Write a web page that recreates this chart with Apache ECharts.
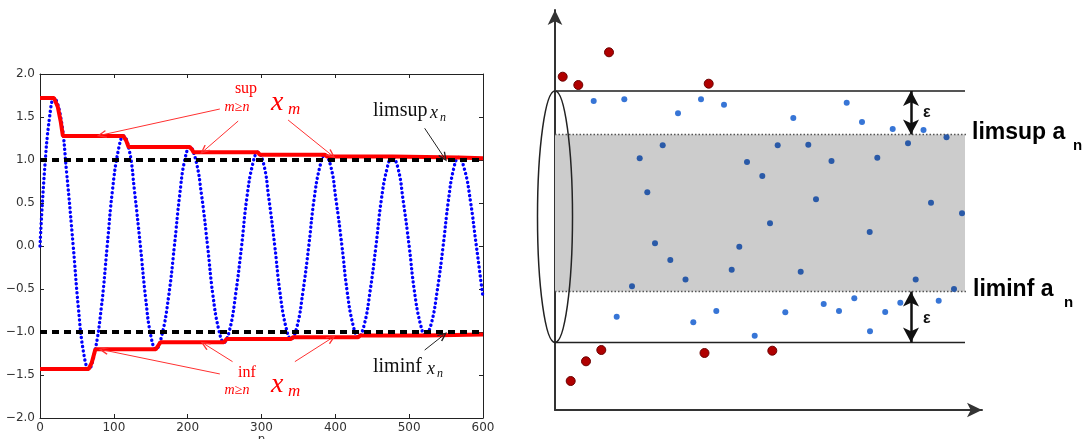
<!DOCTYPE html>
<html>
<head>
<meta charset="utf-8">
<script src="https://cdn.jsdelivr.net/npm/echarts@6/dist/echarts.min.js"></script>
<style>
  html, body { margin: 0; background: #fff; }
  #chart { width: 1085px; height: 439px; }
</style>
</head>
<body>
<div id="chart"></div>
<script>
// ---- left panel: the sequence x_n ----
const seqN = [0, 6, 13, 19, 28, 36, 45, 52, 59, 66, 74, 83, 91, 98, 106, 113, 121, 128, 136,
  143, 150, 157, 165, 174, 182, 189, 196, 203, 211, 219, 227, 234, 242, 249, 257, 265, 273,
  280, 288, 295, 303, 310, 318, 325, 333, 340, 348, 356, 364, 371, 379, 386, 394, 401, 409,
  416, 424, 431, 439, 447, 455, 462, 470, 477, 485, 492, 500, 507, 515, 522, 530, 538, 546,
  553, 560, 567, 575, 583, 591, 600];
const seqX = [0, 0.86, 1.5, 1.72, 1.5, 0.86, 0, -0.72, -1.24, -1.43, -1.24, -0.72, 0, 0.64, 1.11, 1.28, 1.11, 0.64, 0,
  -0.6, -1.04, -1.2, -1.04, -0.6, 0, 0.58, 1.0, 1.15, 1.0, 0.58, 0, -0.56, -0.97, -1.12, -0.97, -0.56, 0,
  0.55, 0.95, 1.09, 0.95, 0.55, 0, -0.54, -0.94, -1.08, -0.94, -0.54, 0, 0.53, 0.92, 1.06, 0.92, 0.53, 0,
  -0.53, -0.92, -1.06, -0.92, -0.53, 0, 0.52, 0.9, 1.04, 0.9, 0.52, 0, -0.52, -0.9, -1.04, -0.9, -0.52, 0,
  0.52, 0.89, 1.03, 0.89, 0.52, 0, -0.6];

// sup_{m>=n} x_m and inf_{m>=n} x_m
const supN = [0, 19, 24, 28, 31, 113, 117, 120, 203, 206, 208, 295, 298, 386, 389, 477, 479, 567, 569, 600];
const supV = [1.72, 1.72, 1.62, 1.45, 1.28, 1.28, 1.22, 1.15, 1.15, 1.12, 1.09, 1.09, 1.06, 1.06, 1.04, 1.04, 1.03, 1.03, 1.02, 1.02];
const infN = [0, 66, 70, 75, 157, 160, 163, 249, 253, 340, 343, 431, 434, 522, 524, 600];
const infV = [-1.43, -1.43, -1.36, -1.2, -1.2, -1.16, -1.12, -1.12, -1.08, -1.08, -1.06, -1.06, -1.04, -1.04, -1.03, -1.03];

const limsupLevel = 1;
const liminfLevel = -1;

// annotation pointers [from, to] in data units
const supPointers = [[[243.6, 1.593], [83.5, 1.291]], [[268.4, 1.453], [222, 1.108]], [[336, 1.465], [394.8, 1.058]]];
const infPointers = [[[243.6, -1.488], [85.7, -1.209]], [[260.8, -1.345], [223.3, -1.143]], [[345.2, -1.345], [394.8, -1.073]]];
const limPointers = [[[521, 1.369], [547.3, 1.03]], [[521, -1.21], [546, -1.04]]];

// ---- right panel: schematic of a_n ----
const upperBound = 319;
const limsupA = 275.5;
const liminfA = 118.5;
const lowerBound = 67.5;
const lineEnd = 410;
const epsX = 356;

const dotsAbove = [[38.7, 309], [69.3, 310.7], [123, 296.7], [146, 310.7], [169, 305.3], [238.3, 292],
  [291.7, 307.3], [307, 288], [337.7, 281], [368.5, 280]];
const dotsBelow = [[61.7, 93.3], [138.3, 87.8], [161.3, 99], [199.7, 74.3], [230.3, 97.7], [268.7, 106],
  [284, 99], [299.3, 111.7], [315, 78.7], [330.2, 98], [345.3, 107.3], [383.7, 109.3]];
const dotsInside = [[107.7, 264.7], [84.7, 251.7], [92.3, 217.7], [192, 248], [207.3, 234], [222.7, 264.7],
  [253.3, 265.3], [276.5, 249], [322.3, 252.3], [353, 266.7], [391.5, 272.7], [261, 210.7], [376, 207.3],
  [407, 196.7], [215, 186.7], [314.7, 178], [100, 166.7], [184.3, 163.3], [115.3, 150], [176.7, 140.3],
  [245.7, 138.3], [130.5, 130.5], [360.7, 130.5], [77, 123.7], [399, 121]];
const dotsOutlier = [[7.7, 333.3], [23.3, 325], [54, 357.7], [153.7, 326.3], [15.7, 29], [31, 48.7],
  [46.3, 60], [149.5, 57], [217.3, 59.3]];

const zip = (a, b) => a.map((v, i) => [v, b[i]]);
const openArrow = 'path://M5,0 L10,9 L8.6,9.8 L5,3.2 L1.4,9.8 L0,9 Z';
const pointerLines = (list) => list.map(p => [{ coord: p[0] }, { coord: p[1] }]);

const chart = echarts.init(document.getElementById('chart'));

const tickFont = { color: '#333', fontSize: 12, fontFamily: 'DejaVu Sans' };
const frame = { onZero: false, lineStyle: { color: '#222', width: 1 } };
const inTick = { inside: true, length: 4, lineStyle: { color: '#222' } };
const minus = v => v.toFixed(1).replace('-', '\u2212');

chart.setOption({
  animation: false,
  grid: [
    { left: 40, top: 74, width: 443, height: 344, outerBoundsMode: 'none' },
    { left: 555, top: 10, width: 427, height: 400, outerBoundsMode: 'none' }
  ],
  xAxis: [
    { gridIndex: 0, type: 'value', min: 0, max: 600, interval: 100, position: 'bottom',
      axisLine: frame, axisTick: inTick, splitLine: { show: false },
      axisLabel: Object.assign({ margin: 4 }, tickFont),
      name: 'n', nameLocation: 'middle', nameGap: 16, nameMoveOverlap: false, nameTextStyle: tickFont },
    { gridIndex: 0, type: 'value', min: 0, max: 600, interval: 100, position: 'top',
      axisLine: frame, axisTick: inTick, splitLine: { show: false }, axisLabel: { show: false } },
    { gridIndex: 1, type: 'value', min: 0, max: 427,
      axisLine: { onZero: false, symbol: ['none', 'arrow'], symbolSize: [11, 15], lineStyle: { color: '#333', width: 2 } },
      axisTick: { show: false }, axisLabel: { show: false }, splitLine: { show: false } }
  ],
  yAxis: [
    { gridIndex: 0, type: 'value', min: -2, max: 2, interval: 0.5, position: 'left',
      axisLine: frame, axisTick: inTick, splitLine: { show: false },
      axisLabel: Object.assign({ margin: 5, formatter: minus }, tickFont) },
    { gridIndex: 0, type: 'value', min: -2, max: 2, interval: 0.5, position: 'right',
      axisLine: frame, axisTick: inTick, splitLine: { show: false }, axisLabel: { show: false } },
    { gridIndex: 1, type: 'value', min: 0, max: 400,
      axisLine: { onZero: false, symbol: ['none', 'arrow'], symbolSize: [11, 15], lineStyle: { color: '#333', width: 2 } },
      axisTick: { show: false }, axisLabel: { show: false }, splitLine: { show: false } }
  ],
  series: [
    // x_n as a dotted curve
    { type: 'line', xAxisIndex: 0, yAxisIndex: 0, data: zip(seqN, seqX), smooth: 0.45,
      showSymbol: false, z: 2,
      lineStyle: { color: '#0000ff', width: 3.4, type: [0.1, 4.4], cap: 'round' } },
    { type: 'line', xAxisIndex: 0, yAxisIndex: 0, data: zip(supN, supV), showSymbol: false, z: 3,
      lineStyle: { color: '#ff0000', width: 4 },
      markLine: { silent: true, symbol: ['none', openArrow], symbolSize: [8, 10], label: { show: false },
        lineStyle: { color: '#ff3030', width: 1, type: 'solid' },
        data: pointerLines(supPointers.concat(infPointers)) } },
    { type: 'line', xAxisIndex: 0, yAxisIndex: 0, data: zip(infN, infV), showSymbol: false, z: 3,
      lineStyle: { color: '#ff0000', width: 4 } },
    { type: 'line', xAxisIndex: 0, yAxisIndex: 0, data: [[0, limsupLevel], [600, limsupLevel]], showSymbol: false, z: 4,
      lineStyle: { color: '#000', width: 4, type: [7, 5] },
      markLine: { silent: true, symbol: ['none', openArrow], symbolSize: [8, 10], label: { show: false },
        lineStyle: { color: '#222', width: 1, type: 'solid' },
        data: pointerLines(limPointers) } },
    { type: 'line', xAxisIndex: 0, yAxisIndex: 0, data: [[0, liminfLevel], [600, liminfLevel]], showSymbol: false, z: 4,
      lineStyle: { color: '#000', width: 4, type: [7, 5] } },

    // right panel
    { type: 'line', xAxisIndex: 2, yAxisIndex: 2, data: [[0, limsupA], [lineEnd + 3, limsupA]], showSymbol: false, z: 3,
      lineStyle: { color: '#555', width: 1.5, type: [1.5, 2] },
      markArea: { silent: true, itemStyle: { color: '#cccccc', opacity: 1 },
        data: [[{ coord: [0, limsupA] }, { coord: [lineEnd, liminfA] }]] } },
    { type: 'line', xAxisIndex: 2, yAxisIndex: 2, data: [[0, liminfA], [lineEnd + 3, liminfA]], showSymbol: false, z: 3,
      lineStyle: { color: '#555', width: 1.5, type: [1.5, 2] } },
    { type: 'line', xAxisIndex: 2, yAxisIndex: 2, data: [[0, upperBound], [lineEnd, upperBound]], showSymbol: false, z: 3,
      lineStyle: { color: '#555', width: 2 },
      markLine: { silent: true, symbol: ['arrow', 'arrow'], symbolSize: [12, 15], label: { show: false },
        lineStyle: { color: '#111', width: 2.5, type: 'solid' },
        data: [
          [{ coord: [epsX, upperBound] }, { coord: [epsX, limsupA] }],
          [{ coord: [epsX, liminfA] }, { coord: [epsX, lowerBound] }]
        ] } },
    { type: 'line', xAxisIndex: 2, yAxisIndex: 2, data: [[0, lowerBound], [lineEnd, lowerBound]], showSymbol: false, z: 3,
      lineStyle: { color: '#222', width: 1.5 } },
    { type: 'scatter', xAxisIndex: 2, yAxisIndex: 2, data: dotsAbove.concat(dotsBelow), symbolSize: 6, z: 4,
      itemStyle: { color: '#3775d6', opacity: 1 } },
    { type: 'scatter', xAxisIndex: 2, yAxisIndex: 2, data: dotsInside, symbolSize: 6, z: 4,
      itemStyle: { color: '#2a5aa8', opacity: 1 } },
    { type: 'scatter', xAxisIndex: 2, yAxisIndex: 2, data: dotsOutlier, symbolSize: 9, z: 4,
      itemStyle: { color: '#b00000', borderColor: '#6a0000', borderWidth: 1, opacity: 1 } }
  ]
});

// ellipse marking the boundary between the two limits, anchored in data units
const ellTop = chart.convertToPixel({ xAxisIndex: 2, yAxisIndex: 2 }, [0, upperBound]);
const ellBot = chart.convertToPixel({ xAxisIndex: 2, yAxisIndex: 2 }, [0, lowerBound]);

const serif = 'Liberation Serif';
const red = '#ff0000';
const txt = (x, y, text, size, opts) => ({
  type: 'text', x: x, y: y, silent: true, z: 10,
  style: Object.assign({ text: text, fontSize: size, fontFamily: serif, fill: red,
    align: 'left', verticalAlign: 'middle' }, opts || {})
});

chart.setOption({
  graphic: [
    { type: 'ellipse', silent: true, z: 6,
      shape: { cx: ellTop[0], cy: (ellTop[1] + ellBot[1]) / 2, rx: 17.5, ry: (ellBot[1] - ellTop[1]) / 2 },
      style: { fill: 'none', stroke: '#222', lineWidth: 1.5 } },

    txt(246, 89, 'sup', 16, { align: 'center' }),
    txt(237, 107, 'm\u2265n', 14, { align: 'center', fontStyle: 'italic' }),
    txt(271, 103, 'x', 28, { fontStyle: 'italic' }),
    txt(288, 110, 'm', 17, { fontStyle: 'italic' }),

    txt(247, 373, 'inf', 16, { align: 'center' }),
    txt(237, 390, 'm\u2265n', 14, { align: 'center', fontStyle: 'italic' }),
    txt(271, 385, 'x', 28, { fontStyle: 'italic' }),
    txt(288, 392, 'm', 17, { fontStyle: 'italic' }),

    txt(373, 111, 'limsup', 20, { fill: '#111' }),
    txt(430, 113, 'x', 18, { fill: '#111', fontStyle: 'italic' }),
    txt(440, 118, 'n', 12, { fill: '#111', fontStyle: 'italic' }),
    txt(373, 367, 'liminf', 20, { fill: '#111' }),
    txt(427, 369, 'x', 18, { fill: '#111', fontStyle: 'italic' }),
    txt(437, 374, 'n', 12, { fill: '#111', fontStyle: 'italic' }),

    txt(923, 113, '\u03b5', 16, { fill: '#111', fontFamily: 'Liberation Sans', fontWeight: 'bold' }),
    txt(923, 319, '\u03b5', 16, { fill: '#111', fontFamily: 'Liberation Sans', fontWeight: 'bold' }),
    txt(972, 133, 'limsup a', 23, { fill: '#000', fontFamily: 'Liberation Sans', fontWeight: 'bold' }),
    txt(1073, 146, 'n', 15, { fill: '#000', fontFamily: 'Liberation Sans', fontWeight: 'bold' }),
    txt(973, 290, 'liminf a', 23, { fill: '#000', fontFamily: 'Liberation Sans', fontWeight: 'bold' }),
    txt(1064, 303, 'n', 15, { fill: '#000', fontFamily: 'Liberation Sans', fontWeight: 'bold' })
  ]
});
</script>
</body>
</html>
